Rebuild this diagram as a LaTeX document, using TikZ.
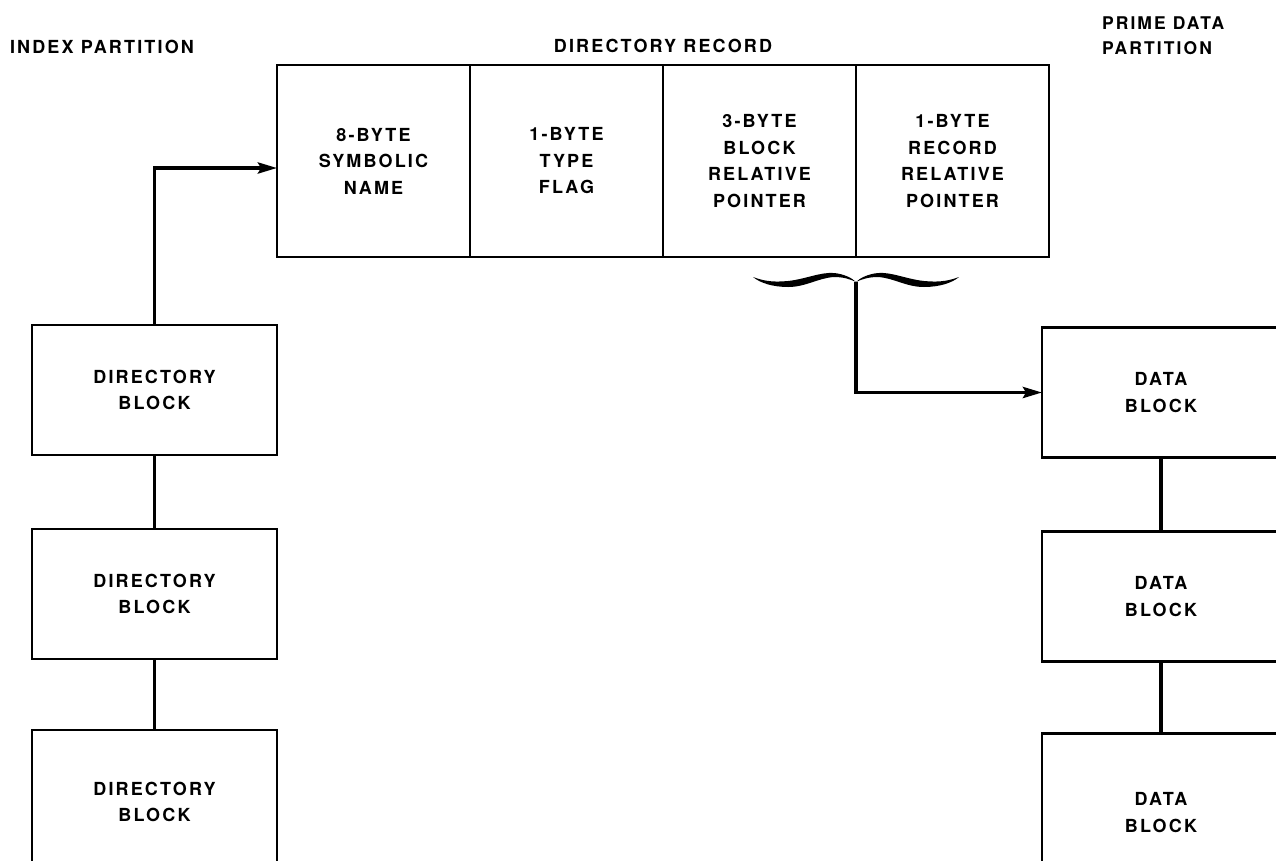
\documentclass[tikz,border=0pt]{standalone}
\usepackage{fontspec}
\setmainfont{TeX Gyre Heros}
\usepackage{tikz}
\usetikzlibrary{arrows.meta,positioning,calc}

\newfontfamily\capsfont{TeX Gyre Heros}[LetterSpace=12]
\newcommand{\lbl}{\capsfont\bfseries\fontsize{18}{26.5}\selectfont}
% one half of the brace, tip at the origin
\newcommand{\halfbrace}{%
	\fill (-103,-5) .. controls (-90,0) and (-80,0) .. (-68,-1)
		.. controls (-50,-3) and (-36,-10) .. (-22,-9)
		.. controls (-12,-8) and (-4,-4) .. (0,0)
		.. controls (-6,-3) and (-13,-5) .. (-22,-5)
		.. controls (-38,-4) and (-50,5) .. (-68,5)
		.. controls (-83,5) and (-96,1) .. (-103,-5) -- cycle;}

\begin{document}
\begin{tikzpicture}[
			x = 1pt, y = -1pt,
			every node/.style = {font = \lbl, inner sep = 0pt, outer sep = 0pt},
			field/.style = {draw, line width = 2.6pt, minimum width = 193pt, minimum height = 192pt, align = center},
			block/.style = {draw, line width = 2.6pt, minimum width = 245pt, minimum height = 130pt, align = center},
			datablock/.style = {block, minimum width = 238pt},
			link/.style = {line width = 3.6pt},
			>={Stealth[length = 19pt, width = 11pt, inset = 3pt]}]

			\useasboundingbox (0,0) rectangle (1276,860);
			\clip (0,0) rectangle (1276,860);

			% directory record
			\node[field] (rec1) at (373.5,161) {8-BYTE\\SYMBOLIC\\NAME};
			\node[field, right = 0pt of rec1] (rec2) {1-BYTE\\TYPE\\FLAG};
			\node[field, right = 0pt of rec2] (rec3) {3-BYTE\\BLOCK\\RELATIVE\\POINTER};
			\node[field, right = 0pt of rec3] (rec4) {1-BYTE\\RECORD\\RELATIVE\\POINTER};

			\node[anchor = west] (idx) at (10,47) {INDEX PARTITION};
			\node[above = 12pt of rec2.north east] (dirrec) {DIRECTORY RECORD};
			\node[anchor = west, align = left, font = \lbl\fontsize{17.5}{25}\selectfont] (prime) at (1102,35.5) {PRIME DATA\\PARTITION};

			% index partition
			\node[block] (dir1) at (154.5,390) {DIRECTORY\\BLOCK};
			\node[block, below = 74pt of dir1] (dir2) {DIRECTORY\\BLOCK};
			\node[block, minimum height = 144pt, below = 71pt of dir2] (dir3) {DIRECTORY\\BLOCK};

			% prime data partition
			\node[datablock] (dat1) at (1161,392.5) {DATA\\BLOCK};
			\node[datablock, below = 74pt of dat1] (dat2) {DATA\\BLOCK};
			\node[datablock, minimum height = 158pt, below = 72pt of dat2] (dat3) {DATA\\BLOCK};

			\draw[link] (dir1) -- (dir2);
			\draw[link] (dir2) -- (dir3);
			\draw[link] (dat1) -- (dat2);
			\draw[link] (dat2) -- (dat3);

			\draw[link,->] (dir1.north) |- ([yshift = -7pt]rec1.west);

			\coordinate (tip) at ($(rec3.south east)+(0,25)$);
			\begin{scope}[shift = {(tip)}]
				\halfbrace
			\end{scope}
			\begin{scope}[shift = {(tip)}, xscale = -1]
				\halfbrace
			\end{scope}
			\draw[link,->] (tip) |- (dat1.west);

		\end{tikzpicture}
\end{document}
